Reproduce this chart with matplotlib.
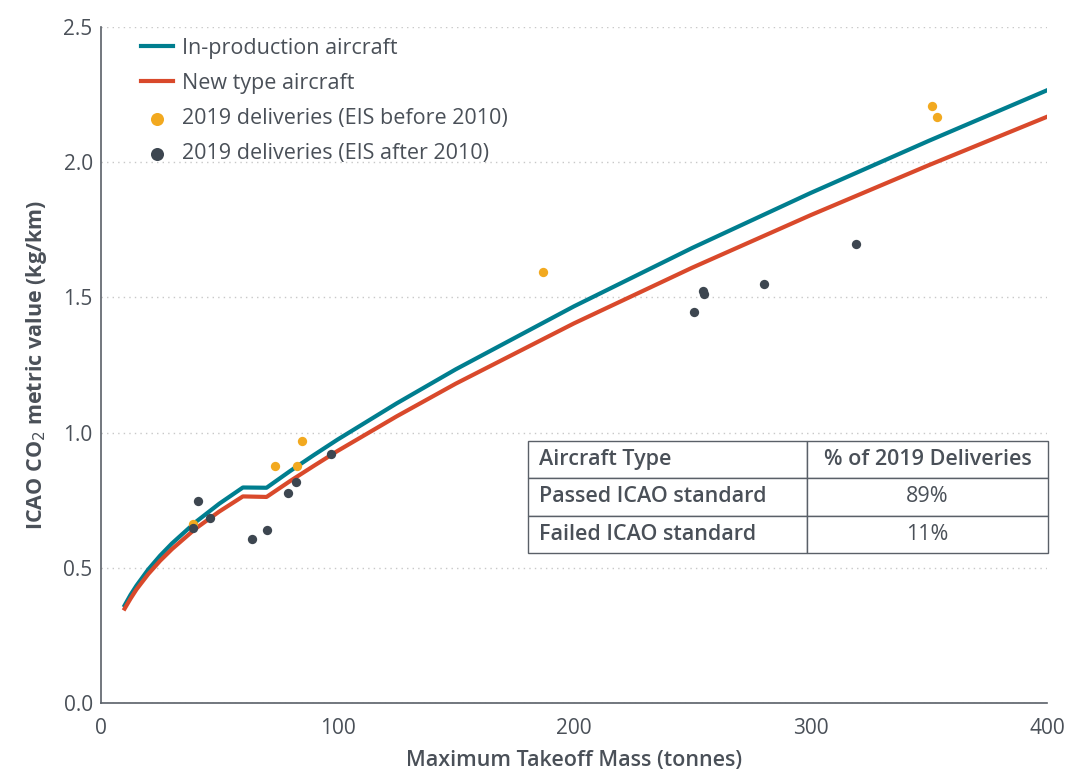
import matplotlib.pyplot as plt

# ICAO CO2 limit lines (MTOM in tonnes, metric value kg/km)
mtom_line = [10, 12.5, 15, 20, 25, 30, 40, 50, 60, 70, 80, 90, 100, 125, 150, 200, 250, 300, 350, 400]
in_production = [0.361, 0.400, 0.434, 0.494, 0.545, 0.590, 0.669, 0.737, 0.797, 0.796, 0.858, 0.917,
                 0.974, 1.108, 1.234, 1.467, 1.683, 1.886, 2.079, 2.266]
new_type = [0.349, 0.386, 0.420, 0.477, 0.526, 0.569, 0.645, 0.708, 0.764, 0.762, 0.821, 0.877,
            0.932, 1.060, 1.181, 1.404, 1.610, 1.804, 1.989, 2.168]

# 2019 deliveries
before_x = [38.8, 73.6, 83.0, 85.0, 186.9, 351.4, 353.5]
before_y = [0.661, 0.876, 0.876, 0.969, 1.594, 2.208, 2.166]
after_x = [39.0, 40.9, 46.2, 63.7, 70.3, 79.1, 82.3, 97.1, 250.9, 254.5, 254.8, 280.3, 319.2]
after_y = [0.646, 0.747, 0.683, 0.607, 0.641, 0.776, 0.817, 0.922, 1.445, 1.523, 1.512, 1.551, 1.697]

table_rows = [["Aircraft Type", "% of 2019 Deliveries"],
              ["Passed ICAO standard", "89%"],
              ["Failed ICAO standard", "11%"]]

teal = "#007e8f"
red = "#d9492b"
orange = "#f2a91f"
dark = "#3d4650"
text_c = "#4a5058"

plt.rcParams['font.family'] = ['Open Sans', 'DejaVu Sans']

fig = plt.figure(figsize=(10.71, 7.72), dpi=100)
ax = fig.add_axes([0.0943, 0.0894, 0.8833, 0.8756])

ax.plot(mtom_line, in_production, color=teal, lw=3, label="In-production aircraft", zorder=3)
ax.plot(mtom_line, new_type, color=red, lw=3, label="New type aircraft", zorder=3)
ax.scatter(before_x, before_y, s=45, color=orange, label="2019 deliveries (EIS before 2010)", zorder=4, linewidths=0)
ax.scatter(after_x, after_y, s=45, color=dark, label="2019 deliveries (EIS after 2010)", zorder=4, linewidths=0)

ax.set_xlim(0, 400)
ax.set_ylim(0, 2.5)
ax.set_xticks([0, 100, 200, 300, 400])
ax.set_yticks([0.0, 0.5, 1.0, 1.5, 2.0, 2.5])
ax.set_yticklabels(["0.0", "0.5", "1.0", "1.5", "2.0", "2.5"])
ax.tick_params(length=0, labelsize=15, colors=text_c, pad=6)
ax.tick_params(axis='x', pad=11)
ax.yaxis.grid(True, linestyle=(0, (1, 3)), color="#c8c8c8", lw=1)
ax.set_axisbelow(True)
for s in ["top", "right"]:
    ax.spines[s].set_visible(False)
for s in ["left", "bottom"]:
    ax.spines[s].set_color("#5a6068")
    ax.spines[s].set_linewidth(1.2)

ax.set_xlabel("Maximum Takeoff Mass (tonnes)", fontsize=15.5, color=text_c, fontweight="semibold", labelpad=8)
ax.set_ylabel("ICAO CO$_2$ metric value (kg/km)", fontsize=15.5, color=text_c, fontweight="bold", labelpad=10)

leg = ax.legend(loc="upper left", bbox_to_anchor=(0.031, 1.0), frameon=False, fontsize=15.5,
                handlelength=1.5, handletextpad=0.4, labelspacing=0.66, borderaxespad=0.1,
                markerscale=1.4)
for t in leg.get_texts():
    t.set_color(text_c)

tbl = ax.table(cellText=table_rows, colWidths=[0.5365, 0.4635],
               bbox=[0.4514, 0.2219, 0.5496, 0.1657], zorder=5)
tbl.auto_set_font_size(False)
for (r, c), cell in tbl.get_celld().items():
    cell.set_edgecolor("#5a6068")
    cell.set_linewidth(1.0)
    cell.set_facecolor("white")
    txt = cell.get_text()
    txt.set_fontsize(15.5)
    txt.set_color(text_c)
    if r == 0 or c == 0:
        txt.set_fontweight("semibold")
    if c == 0:
        cell.set_text_props(ha="left")
        cell.PAD = 0.04
    else:
        cell.set_text_props(ha="center")

fig.savefig("out.png", dpi=100, facecolor="white")
